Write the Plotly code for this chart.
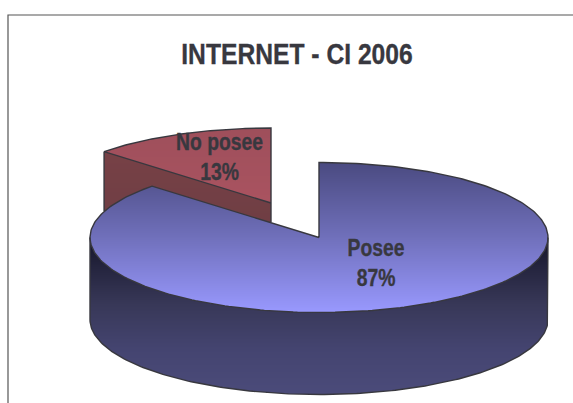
import numpy as np
import plotly.graph_objects as go

# --- chart content ---
title = "INTERNET - CI 2006"
labels = ["Posee", "No posee"]
shares = [87, 13]
label_pos_x = [376, 219.5]
label_pos_y = [265.5, 159]

# --- pie geometry, in canvas pixels ---
W, H = 573, 403
cx, cy, rx, ry, depth = 319, 237.5, 229, 75, 82
off_x, off_y = -48, -34.5   # explosion of the second slice
ink = "#38383f"
font = "Liberation Sans"

split = shares[0] / sum(shares) * 360.0
xs = np.arange(W) + 0.5
ys = np.arange(H) + 0.5
X, Y = np.meshgrid(xs, ys)


def theta(X, Y, cx0, cy0):
    return np.degrees(np.arctan2((X - cx0) / rx, -(Y - cy0) / ry)) % 360


def inside(X, Y, cx0, cy0):
    return ((X - cx0) / rx) ** 2 + ((Y - cy0) / ry) ** 2 <= 1


def rim(a, cx0, cy0):
    r = np.radians(a)
    return cx0 + rx * np.sin(r), cy0 - ry * np.cos(r)


def blue_mask(X, Y):
    top = inside(X, Y, cx, cy) & (theta(X, Y, cx, cy) <= split)
    u = np.clip((X - cx) / rx, -1, 1)
    low = cy + ry * np.sqrt(1 - u ** 2)
    wall = (np.abs(X - cx) <= rx) & (Y >= cy) & (Y <= low + depth)
    return top, wall & ~top


rcx, rcy = cx + off_x, cy + off_y
lx, ly = rim(split, rcx, rcy)

blue_top, blue_wall = blue_mask(X, Y)
red_top = inside(X, Y, rcx, rcy) & (theta(X, Y, rcx, rcy) >= split)
line_y = ly + (X - lx) / (rcx - lx) * (rcy - ly)
red_wall = (X >= lx) & (X <= rcx) & (Y >= line_y) & (Y <= line_y + depth)
red_wall &= ~red_top


def layer(mask, zmin, zmax, stops):
    rows = np.where(mask.any(axis=1))[0]
    cols = np.where(mask.any(axis=0))[0]
    r0, r1, c0, c1 = rows[0], rows[-1] + 1, cols[0], cols[-1] + 1
    z = np.where(mask[r0:r1, c0:c1], Y[r0:r1, c0:c1], np.nan).astype("float32")
    return go.Heatmap(x=xs[c0:c1], y=ys[r0:r1], z=z, zmin=zmin, zmax=zmax,
                      colorscale=stops, showscale=False, hoverinfo="skip")


fig = go.Figure()
fig.add_trace(layer(red_top, 128, 205, [[0, "#9e4f5b"], [1, "#aa5360"]]))
fig.add_trace(layer(red_wall, 150, 225, [[0, "#774146"], [1, "#6f3e44"]]))
fig.add_trace(layer(blue_wall, 240, 395, [[0, "#15152a"], [0.18, "#25253f"],
                                          [0.42, "#383858"], [0.7, "#444470"], [1, "#4b4b7a"]]))
fig.add_trace(layer(blue_top, 162, 313, [[0, "#4a4a80"], [0.5, "#7070bb"], [1, "#9999ff"]]))


def outline(px, py, clip=False):
    px, py = np.asarray(px, float), np.asarray(py, float)
    if clip:
        t, w = blue_mask(px, py)
        py = np.where(t | w, np.nan, py)
    fig.add_trace(go.Scatter(x=px, y=py, mode="lines", line=dict(color=ink, width=1.4),
                             hoverinfo="skip", showlegend=False, connectgaps=False))


# red slice outline (hidden parts are left out)
a = np.linspace(split, 360, 80)
ax, ay = rim(a, rcx, rcy)
outline(np.r_[rcx, ax, rcx], np.r_[rcy, ay, rcy])
outline(np.linspace(lx, lx, 100), np.linspace(ly, ly + depth, 100), clip=True)
outline(np.linspace(rcx, rcx, 100), np.linspace(rcy, rcy + depth, 100), clip=True)

# blue slice outline
a = np.linspace(0, split, 300)
ax, ay = rim(a, cx, cy)
outline(np.r_[cx, ax, cx], np.r_[cy, ay, cy])
a = np.linspace(90, 270, 200)
ax, ay = rim(a, cx, cy + depth)
outline(np.r_[cx + rx, ax, cx - rx], np.r_[cy, ay, cy])

texts = [f"{n}<br>{s}%" for n, s in zip(labels, shares)]
fig.add_trace(go.Scatter(x=label_pos_x, y=label_pos_y, mode="text", text=texts,
                         textposition="middle center", hoverinfo="skip", showlegend=False,
                         textfont=dict(family=font, size=23, color=ink, weight="bold")))

fig.update_layout(
    width=W, height=H, autosize=False, showlegend=False,
    margin=dict(l=0, r=0, t=0, b=0),
    paper_bgcolor="white", plot_bgcolor="white",
    title=dict(text=title, x=297 / W, xanchor="center", y=1 - 54 / H, yanchor="middle",
               font=dict(family=font, size=29, color=ink, weight="bold")),
    xaxis=dict(range=[0, W], visible=False, fixedrange=True),
    yaxis=dict(range=[H, 0], visible=False, fixedrange=True),
    shapes=[dict(type="rect", xref="x", yref="y", x0=8, y0=15, x1=W + 20, y1=H + 20,
                 line=dict(color="#555555", width=1.2))],
)

# the reference text is a horizontally condensed bold face; narrow the real text to match
condense = """
document.body.style.margin='0';
document.documentElement.style.overflow='hidden';
document.querySelectorAll('.gtitle, .textpoint text tspan.line').forEach(function(t){
  var f = t.classList.contains('gtitle') ? 0.85 : 0.84;
  t.setAttribute('textLength', (t.getComputedTextLength()*f).toFixed(1));
  t.setAttribute('lengthAdjust', 'spacingAndGlyphs');
  t.style.stroke = '#38383f';
  t.style.strokeWidth = '0.35px';
});
"""
fig.write_html("out.html", config=dict(displayModeBar=False), post_script=condense)
